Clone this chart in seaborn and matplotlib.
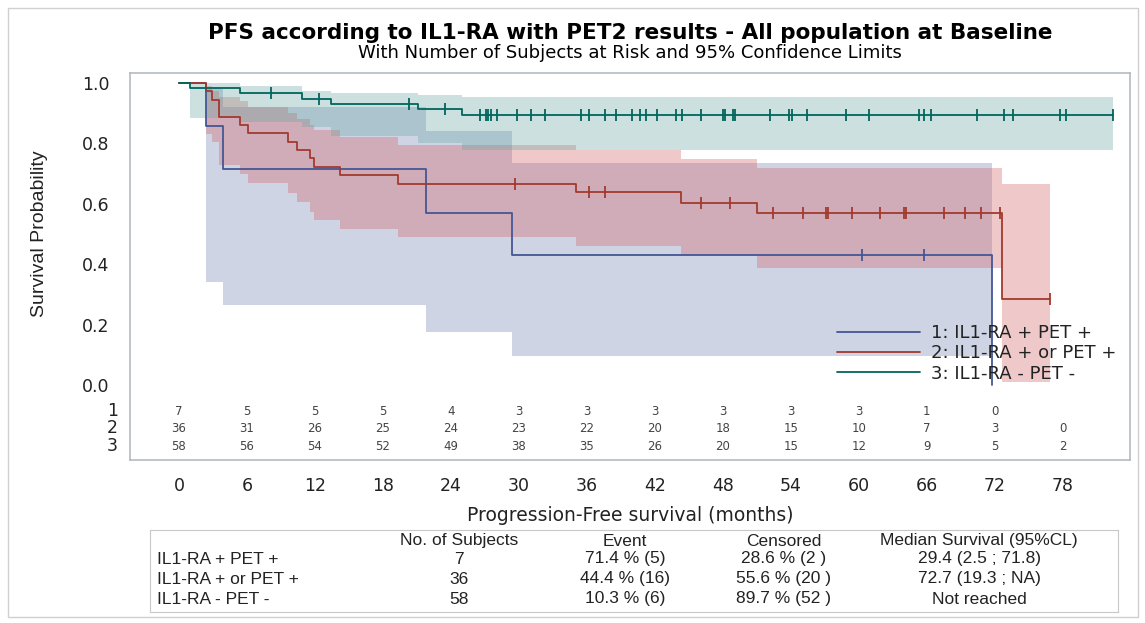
import numpy as np
import matplotlib
matplotlib.use("Agg")
import matplotlib.pyplot as plt
from matplotlib.lines import Line2D
from matplotlib.patches import Rectangle
import seaborn as sns

# Kaplan-Meier steps (months, survival probability)
t1 = [0, 2.4, 3.9, 21.8, 29.4, 71.8]
s1 = [1.0, 0.857, 0.714, 0.571, 0.429, 0.0]
t2 = [0, 2.4, 2.9, 3.5, 5.4, 6.1, 9.6, 10.4, 11.6, 11.9, 14.2, 19.3, 35.0, 44.3, 51.0, 72.6, 76.9]
s2 = [1.0, 0.972, 0.944, 0.889, 0.861, 0.833, 0.806, 0.778, 0.750, 0.722, 0.694, 0.667, 0.638, 0.603, 0.569, 0.284, 0.284]
t3 = [0, 0.97, 5.4, 10.9, 13.4, 21.1, 25.0, 82.4]
s3 = [1.0, 0.983, 0.966, 0.948, 0.931, 0.913, 0.893, 0.893]

# censored times
c1 = [60.3, 65.8]
c2 = [29.7, 36.2, 37.6, 46.1, 48.6, 52.4, 55.1, 57.1, 57.3, 59.4, 61.9, 64.0, 64.2, 67.5, 69.4, 70.8, 72.5, 76.9]
c3 = [8.1, 12.4, 20.3, 23.5, 26.6, 27.1, 27.3, 27.5, 28.1, 29.8, 31.1, 32.3, 35.5, 36.2, 37.6, 38.6,
      40.0, 40.7, 41.2, 42.2, 43.9, 44.4, 46.1, 48.0, 48.2, 48.9, 49.1, 52.2, 53.8, 54.1, 55.4, 58.9,
      60.9, 65.3, 65.8, 66.4, 70.4, 72.8, 73.6, 77.8, 78.3, 82.4]

# 95% confidence bands (step functions)
b1_t = [2.4, 3.9, 21.8, 29.4, 71.8]
b1_lo = [0.34, 0.265, 0.175, 0.097, 0.097]
b1_hi = [0.98, 0.92, 0.84, 0.734, 0.734]
b2_t = [2.4, 2.9, 3.5, 5.4, 6.1, 9.6, 10.4, 11.6, 11.9, 14.2, 19.3, 35.0, 44.3, 51.0, 72.6, 76.9]
b2_lo = [0.83, 0.806, 0.729, 0.70, 0.668, 0.635, 0.607, 0.574, 0.546, 0.516, 0.491, 0.46, 0.43, 0.389, 0.01, 0.01]
b2_hi = [0.99, 0.975, 0.955, 0.94, 0.92, 0.90, 0.88, 0.86, 0.845, 0.82, 0.795, 0.778, 0.747, 0.717, 0.666, 0.666]
b3_t = [0.97, 5.4, 10.9, 13.4, 21.1, 25.0, 82.4]
b3_lo = [0.885, 0.87, 0.855, 0.825, 0.80, 0.778, 0.778]
b3_hi = [1.0, 0.99, 0.975, 0.966, 0.96, 0.952, 0.952]

# numbers at risk
risk_times = [0, 6, 12, 18, 24, 30, 36, 42, 48, 54, 60, 66, 72, 78]
risk1 = [7, 5, 5, 5, 4, 3, 3, 3, 3, 3, 3, 1, 0]
risk2 = [36, 31, 26, 25, 24, 23, 22, 20, 18, 15, 10, 7, 3, 0]
risk3 = [58, 56, 54, 52, 49, 38, 35, 26, 20, 15, 12, 9, 5, 2]

labels = ["1: IL1-RA + PET +", "2: IL1-RA + or PET +", "3: IL1-RA - PET -"]

# summary table
tbl_header = ["No. of Subjects", "Event", "Censored", "Median Survival (95%CL)"]
tbl_groups = ["IL1-RA + PET +", "IL1-RA + or PET +", "IL1-RA - PET -"]
n_subjects = ["7", "36", "58"]
event_txt = ["71.4 % (5)", "44.4 % (16)", "10.3 % (6)"]
censor_txt = ["28.6 % (2 )", "55.6 % (20 )", "89.7 % (52 )"]
median_txt = ["29.4 (2.5 ; 71.8)", "72.7 (19.3 ; NA)", "Not reached"]

line_cols = ["#445694", "#A23A2E", "#01665E"]
band_cols = ["#6F7EB3", "#D05B5B", "#66A5A0"]

sns.set_style("white")
plt.rcParams["font.family"] = ["DejaVu Sans"]
narrow = ["Liberation Sans Narrow", "Liberation Sans"]


def surv_at(tc, t, s):
    idx = np.searchsorted(t, tc, side="right") - 1
    return np.asarray(s)[idx]


fig = plt.figure(figsize=(11.45, 6.23), dpi=100)
ax = fig.add_axes([130 / 1145, 163 / 623, 1000 / 1145, 387 / 623])

bands = [(b1_t, b1_lo, b1_hi), (b2_t, b2_lo, b2_hi), (b3_t, b3_lo, b3_hi)]
for (bt, lo, hi), col in zip(bands, band_cols):
    ax.fill_between(bt, lo, hi, step="post", color=col, alpha=0.33, linewidth=0)

curves = [(t1, s1, c1), (t2, s2, c2), (t3, s3, c3)]
for (t, s, c), col in zip(curves, line_cols):
    sns.lineplot(x=t, y=s, drawstyle="steps-post", estimator=None, sort=False,
                 color=col, linewidth=1.3, ax=ax, legend=False)
    ax.plot(c, surv_at(c, t, s), linestyle="none", marker="|", markersize=9,
            markeredgewidth=1.3, color=col)

ax.set_xlim(-4.32, 83.94)
ax.set_ylim(-0.248, 1.033)
ax.set_xticks(risk_times)
ax.set_yticks([0, 0.2, 0.4, 0.6, 0.8, 1.0])
ax.set_yticklabels([f"{v:.1f}" for v in [0, 0.2, 0.4, 0.6, 0.8, 1.0]])
ax.tick_params(axis="x", length=5, width=1, color="#A0A8B0", pad=7, labelsize=12.5, labelcolor="#222222")
ax.tick_params(axis="y", length=8, width=1, color="#A0A8B0", pad=7, labelsize=12.5, labelcolor="#222222")
for sp in ax.spines.values():
    sp.set_color("#B4BBC0")
    sp.set_linewidth(1.2)

ax.set_xlabel("Progression-Free survival (months)", fontsize=13.5, labelpad=8, color="#222222")
ax.set_ylabel("Survival Probability", fontsize=14, color="#222222", family=narrow)
ax.yaxis.set_label_coords(-0.082, 0.584)

# numbers at risk inside the frame
row_y = [-0.086, -0.143, -0.202]
for rows, yy, name in zip([risk1, risk2, risk3], row_y, ["1", "2", "3"]):
    for xx, v in zip(risk_times, rows):
        ax.text(xx, yy, str(v), ha="center", va="center", fontsize=8.5, color="#444444")
    ax.text(-0.012, yy, name, transform=ax.get_yaxis_transform(), ha="right", va="center",
            fontsize=12.5, color="#222222")

handles = [Line2D([], [], color=c, linewidth=1.3) for c in line_cols]
leg = ax.legend(handles, labels, loc="lower right", bbox_to_anchor=(0.992, 0.186),
                borderaxespad=0, fontsize=13, handlelength=4.6, handletextpad=0.6,
                labelspacing=0.12, frameon=True, fancybox=False, framealpha=0,
                edgecolor="#C8C8C8", borderpad=0.3)
for txt in leg.get_texts():
    txt.set_color("#222222")

fig.text(0.55, 1 - 33 / 623, "PFS according to IL1-RA with PET2 results - All population at Baseline",
         ha="center", va="center", fontsize=15.5, fontweight="bold", color="black")
fig.text(0.55, 1 - 53 / 623, "With Number of Subjects at Risk and 95% Confidence Limits",
         ha="center", va="center", fontsize=13, color="black")

# summary table below the plot
tax = fig.add_axes([150 / 1145, 11 / 623, 968 / 1145, 82 / 623])
tax.set_xlim(0, 968)
tax.set_ylim(82, 0)
tax.set_xticks([])
tax.set_yticks([])
for sp in tax.spines.values():
    sp.set_color("#C8C8C8")
tfont = dict(fontsize=12.5, color="#222222", family=narrow)
col_x = [309, 475, 634, 829]
for xx, h in zip(col_x, tbl_header):
    tax.text(xx, 11, h, ha="center", va="center", **tfont)
for i in range(3):
    yy = 29 + i * 20
    tax.text(7, yy, tbl_groups[i], ha="left", va="center", **tfont)
    tax.text(col_x[0], yy, n_subjects[i], ha="center", va="center", **tfont)
    tax.text(col_x[1], yy, event_txt[i], ha="center", va="center", **tfont)
    tax.text(col_x[2], yy, censor_txt[i], ha="center", va="center", **tfont)
    tax.text(col_x[3], yy, median_txt[i], ha="center", va="center", **tfont)

fig.patches.append(Rectangle((8 / 1145, 6 / 623), 1130 / 1145, 609 / 623, transform=fig.transFigure,
                             fill=False, edgecolor="#D0D0D0", linewidth=1))

fig.savefig("out.png", dpi=100)
